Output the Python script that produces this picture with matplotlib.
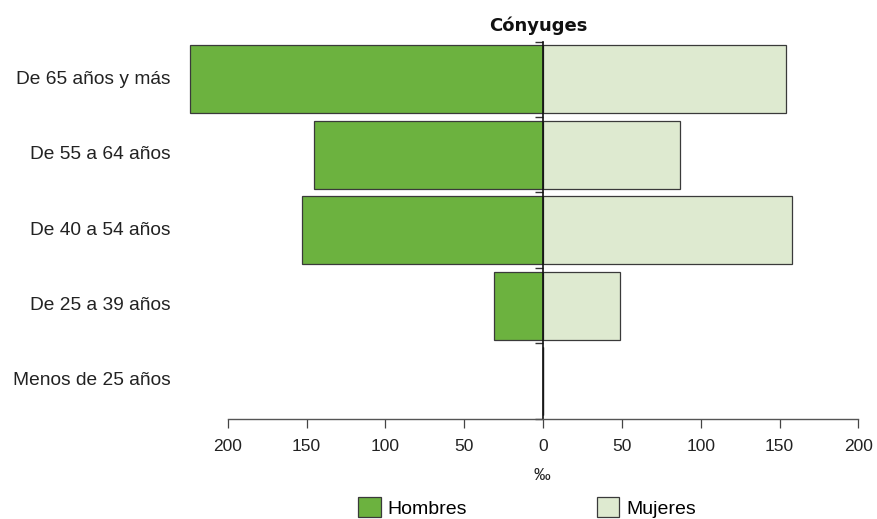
import numpy as np
import matplotlib
matplotlib.use('Agg')
from matplotlib import pyplot as plt
from matplotlib.transforms import blended_transform_factory

plt.rcParams['font.family'] = ['Liberation Sans', 'DejaVu Sans']

categorias = ['De 65 años y más', 'De 55 a 64 años', 'De 40 a 54 años',
              'De 25 a 39 años', 'Menos de 25 años']
hombres = [224, 145, 153, 31, 0]
mujeres = [154, 87, 158, 49, 0]
ticks = [-200, -150, -100, -50, 0, 50, 100, 150, 200]
tick_labels = ['200', '150', '100', '50', '0', '50', '100', '150', '200']

verde = '#6cb23f'
verde_claro = '#deead0'
borde = '#3a3a3a'

fig = plt.figure(figsize=(8.77, 5.19), dpi=100)
ax = fig.add_axes([0.2596, 0.1933, 0.7193, 0.7264])

y = np.arange(len(categorias))
ax.barh(y, [-h for h in hombres], height=0.9, color=verde, edgecolor=borde,
        linewidth=0.9, clip_on=False, label='Hombres')
ax.barh(y, mujeres, height=0.9, color=verde_claro, edgecolor=borde,
        linewidth=0.9, clip_on=False, label='Mujeres')

ax.set_xlim(-200, 200)
ax.set_ylim(4.5, -0.5)
ax.set_xticks(ticks)
ax.set_xticklabels(tick_labels, fontsize=12.5, color='#222222')
ax.tick_params(axis='x', direction='out', length=6.5, width=0.9,
               color='#444444', pad=8.3)

ax.spines['top'].set_visible(False)
ax.spines['right'].set_visible(False)
ax.spines['bottom'].set_color('#555555')
ax.spines['bottom'].set_linewidth(1.0)
ax.spines['left'].set_position(('data', 0))
ax.spines['left'].set_color('#111111')
ax.spines['left'].set_linewidth(1.2)
ax.set_yticks(np.arange(-0.5, 5, 1.0))
ax.set_yticklabels([])
ax.tick_params(axis='y', direction='out', length=5.8, width=1.0, color='#333333')

# etiquetas de categorias a la izquierda
trans = blended_transform_factory(ax.transAxes, ax.transData)
for yi, cat in zip(y, categorias):
    ax.text(-0.0899, yi, cat, transform=trans, ha='right', va='center',
            fontsize=13.8, color='#222222')

fig.text(538 / 877, 1 - 31 / 519, 'Cónyuges', ha='center', va='baseline',
         fontsize=13, fontweight='bold', family=['DejaVu Sans'], color='#111111')
fig.text(541.7 / 877, 1 - 476 / 519, '‰', ha='center', va='center',
         fontsize=12, color='#222222')

fig.legend(loc='center', bbox_to_anchor=(527 / 877, 1 - 507.5 / 519), ncol=2,
           frameon=False, fontsize=14, handlelength=1.18, handleheight=1.18,
           handletextpad=0.36, columnspacing=6.65, borderpad=0, borderaxespad=0)

fig.savefig('out.png', dpi=100)
